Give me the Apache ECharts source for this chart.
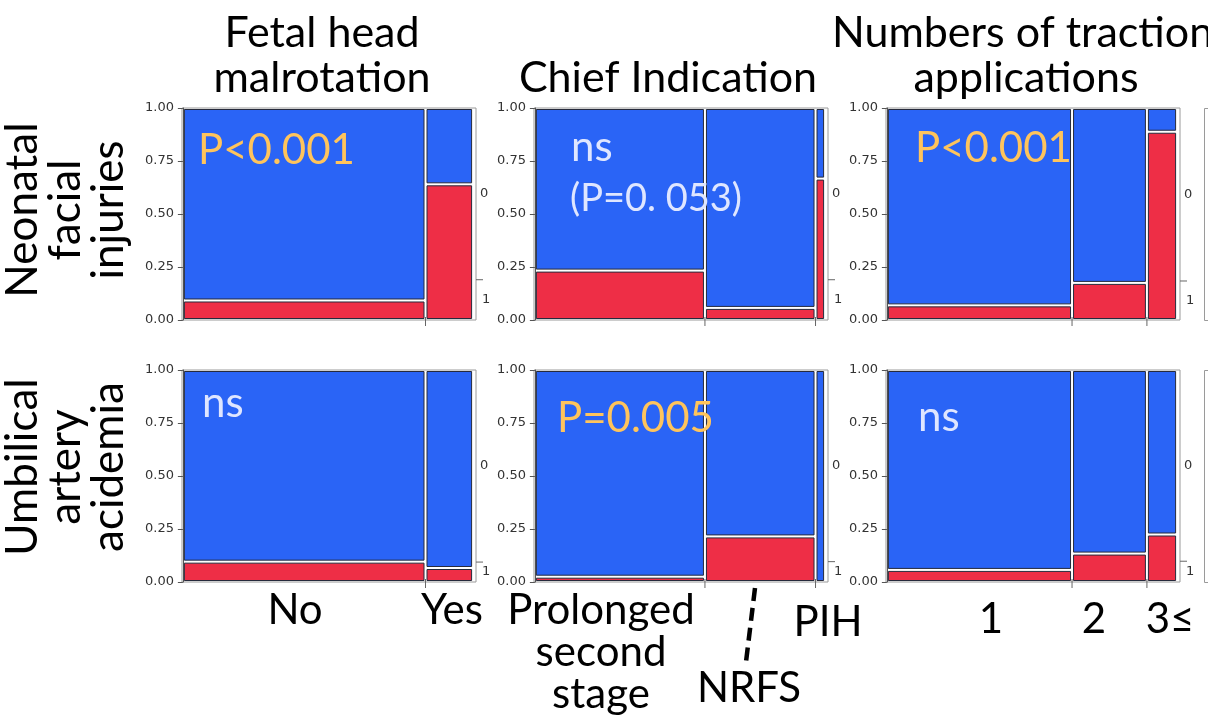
<!DOCTYPE html>
<html><head><meta charset="utf-8">
<script src="https://cdn.jsdelivr.net/npm/echarts@6/dist/echarts.min.js"></script>
<style>html,body{margin:0;padding:0;background:#fff}#c{width:1208px;height:720px}</style>
</head><body><div id="c"></div>
<script>
// ---------------- data ----------------
const outcomes = ['Neonatal\nfacial\ninjuries', 'Umbilical\nartery\nacidemia'];
const outcomeLevels = ['0', '1'];
const factorTitles = ['Fetal head\nmalrotation', 'Chief Indication', 'Numbers of traction\napplications'];
const malrotationCats = ['No', 'Yes'];
const indicationCats = ['Prolonged\nsecond\nstage', 'NRFS', 'PIH'];
const tractionCats = ['1', '2', '3\u2264'];
// column widths (share of cases in each category)
const malrotationShare = [0.836, 0.164];
const indicationShare = [0.586, 0.381, 0.033];
const tractionShare = [0.638, 0.258, 0.104];
// proportion of outcome = 1 within each category
const injuryByMalrotation = [0.092, 0.64];
const injuryByIndication = [0.233, 0.057, 0.667];
const injuryByTraction = [0.069, 0.175, 0.888];
const acidemiaByMalrotation = [0.096, 0.066];
const acidemiaByIndication = [0.025, 0.215, 0.0];
const acidemiaByTraction = [0.057, 0.134, 0.224];
// overall proportion of outcome = 1 (right-hand marker)
const injuryOverall = [0.19, 0.19, 0.184];
const acidemiaOverall = [0.094, 0.096, 0.098];
// significance notes
const injuryP = ['P<0.001', 'ns\n(P=0. 053)', 'P<0.001'];
const acidemiaP = ['ns', 'P=0.005', 'ns'];
const yTicks = [0, 0.25, 0.5, 0.75, 1];

// ---------------- layout ----------------
const BLUE = '#2a64f6', RED = '#ee2e46', EDGE = '#262a3c';
const ORANGE = '#ffc45c', PALE = '#dfe6ff';
const FONT = 'Lato';
const colLeft = [182, 534, 886], rowTop = [108, 370];
const GW = 294, GH = 212;
const X_MIN = -0.003, X_MAX = 1.01;
const GAP = 1.5;

const shares = [malrotationShare, indicationShare, tractionShare];
const rates = [[injuryByMalrotation, injuryByIndication, injuryByTraction],
               [acidemiaByMalrotation, acidemiaByIndication, acidemiaByTraction]];
const overall = [injuryOverall, acidemiaOverall];
const pNotes = [injuryP, acidemiaP];

function tileItem(params, api) {
  const x0 = api.value(0), x1 = api.value(1), y0 = api.value(2), y1 = api.value(3);
  const isRed = api.value(4) === 1;
  const p = api.coord([x0, y1]), q = api.coord([x1, y0]);
  const w = q[0] - p[0] - 2 * GAP, h = q[1] - p[1] - 2 * GAP;
  if (w <= 0.5 || h <= 0.5) return null;
  return { type: 'rect', shape: { x: p[0] + GAP, y: p[1] + GAP, width: w, height: h },
    style: { fill: isRed ? RED : BLUE, stroke: EDGE, lineWidth: 1 } };
}
function txt(x, y, s, size, color, align) {
  return { type: 'text', x: x, y: y, style: { text: s, fill: color, fontSize: size, fontFamily: 'DejaVu Sans',
    align: align, verticalAlign: 'middle', textAlign: align, textVerticalAlign: 'middle' } };
}
function decoItem(params, api) {
  const kind = api.value(0), v = api.value(1);
  if (kind === 0) {
    const p = api.coord([v, 0]);
    return { type: 'line', shape: { x1: p[0], y1: p[1] - 3, x2: p[0], y2: p[1] + 6 }, style: { stroke: '#666', lineWidth: 1 } };
  }
  const m = api.coord([X_MAX, v]);
  const a0 = api.coord([X_MAX, (v + 1) / 2]);
  const a1 = api.coord([X_MAX, v / 2]);
  return { type: 'group', children: [
    { type: 'line', shape: { x1: m[0], y1: m[1], x2: m[0] + 7, y2: m[1] }, style: { stroke: '#666', lineWidth: 1 } },
    txt(a0[0] + 4, a0[1], outcomeLevels[0], 13, '#333', 'left'),
    txt(a1[0] + 6, a1[1], outcomeLevels[1], 13, '#333', 'left')
  ] };
}

const grid = [], xAxis = [], yAxis = [], series = [];
for (let r = 0; r < 2; r++) {
  for (let c = 0; c < 3; c++) {
    const idx = r * 3 + c;
    grid.push({ left: colLeft[c], top: rowTop[r], width: GW, height: GH, show: true,
      borderColor: '#9a9a9a', borderWidth: 1, backgroundColor: 'transparent' });
    xAxis.push({ type: 'value', gridIndex: idx, min: X_MIN, max: X_MAX, show: false });
    yAxis.push({ type: 'value', gridIndex: idx, min: yTicks[0], max: yTicks[yTicks.length - 1],
      interval: yTicks[1] - yTicks[0], offset: 2,
      axisLine: { show: true, lineStyle: { color: '#555', width: 1 } },
      axisTick: { show: true, length: 5, lineStyle: { color: '#555' } },
      axisLabel: { formatter: v => v.toFixed(2), fontSize: 13, color: '#333', fontFamily: 'DejaVu Sans', margin: 6 },
      splitLine: { show: false } });
    const tiles = [], deco = [];
    let cum = 0;
    shares[c].forEach((w, i) => {
      const rr = rates[r][c][i];
      tiles.push([cum, cum + w, 0, rr, 1]);
      tiles.push([cum, cum + w, rr, 1, 0]);
      cum += w;
      if (i < shares[c].length - 1) deco.push([0, cum]);
    });
    deco.push([1, overall[r][c]]);
    series.push({ type: 'custom', xAxisIndex: idx, yAxisIndex: idx, renderItem: tileItem, data: tiles, silent: true, z: 2 });
    series.push({ type: 'custom', xAxisIndex: idx, yAxisIndex: idx, renderItem: decoItem, data: deco, clip: false, silent: true, z: 2 });
  }
}

// ---------------- text annotations ----------------
function T(x, y, s, size, color, align, extra) {
  return { type: 'text', x: x, y: y, silent: true, z: 100,
    style: Object.assign({ text: s, fill: color || '#000', fontSize: size, fontFamily: FONT,
      align: align || 'center', verticalAlign: 'middle', textAlign: align || 'center', textVerticalAlign: 'middle',
      lineHeight: size + 2 }, extra || {}) };
}
const graphics = [];
// column titles
const tl = factorTitles.map(s => s.split('\n'));
graphics.push(T(322, 33, tl[0][0], 43));
graphics.push(T(322, 78, tl[0][1], 43));
graphics.push(T(668, 78, tl[1][0], 43));
graphics.push(T(832, 33, tl[2][0], 43, '#000', 'left'));
graphics.push(T(1026, 78, tl[2][1], 43));
// row labels (rotated)
[210, 467].forEach((cy, r) => {
  const g = T(66, cy, outcomes[r], 44, '#000', 'center', { lineHeight: 43 });
  g.rotation = Math.PI / 2;
  graphics.push(g);
});
// category labels
graphics.push(T(295, 610, malrotationCats[0], 42));
graphics.push(T(452, 610, malrotationCats[1], 42));
graphics.push(T(601, 652, indicationCats[0], 42, '#000', 'center', { lineHeight: 42 }));
graphics.push(T(749, 688, indicationCats[1], 42));
graphics.push(T(828, 622, indicationCats[2], 42));
graphics.push(T(991, 619, tractionCats[0], 42));
graphics.push(T(1094, 619, tractionCats[1], 42));
graphics.push(T(1170, 619, tractionCats[2], 42));
// dashed pointer to NRFS
graphics.push({ type: 'line', silent: true, z: 100, shape: { x1: 755, y1: 588, x2: 746, y2: 662 },
  style: { stroke: '#000', lineWidth: 4.5, lineDash: [13, 7] } });
// significance notes
const pPos = [[[198, 150]], [[571, 147], [570, 199]], [[915, 148]]];
const pPos2 = [[[202, 403]], [[557, 418]], [[918, 417]]];
[pPos, pPos2].forEach((pos, r) => {
  pNotes[r].forEach((note, c) => {
    const lines = note.split('\n');
    const col = lines[0] === 'ns' ? PALE : ORANGE;
    lines.forEach((ln, k) => {
      graphics.push(T(pos[c][k][0], pos[c][k][1], ln, k === 0 ? 42 : 38, col, 'left'));
    });
  });
});
// partially visible next panel frames
rowTop.forEach(t => graphics.push({ type: 'rect', silent: true, z: 100,
  shape: { x: 1204.5, y: t + 0.5, width: 300, height: GH }, style: { fill: 'none', stroke: '#9a9a9a', lineWidth: 1 } }));

const chart = echarts.init(document.getElementById('c'), null, { renderer: 'canvas' });
chart.setOption({ animation: false, backgroundColor: '#fff', grid, xAxis, yAxis, series, graphic: { elements: graphics } });
</script></body></html>
